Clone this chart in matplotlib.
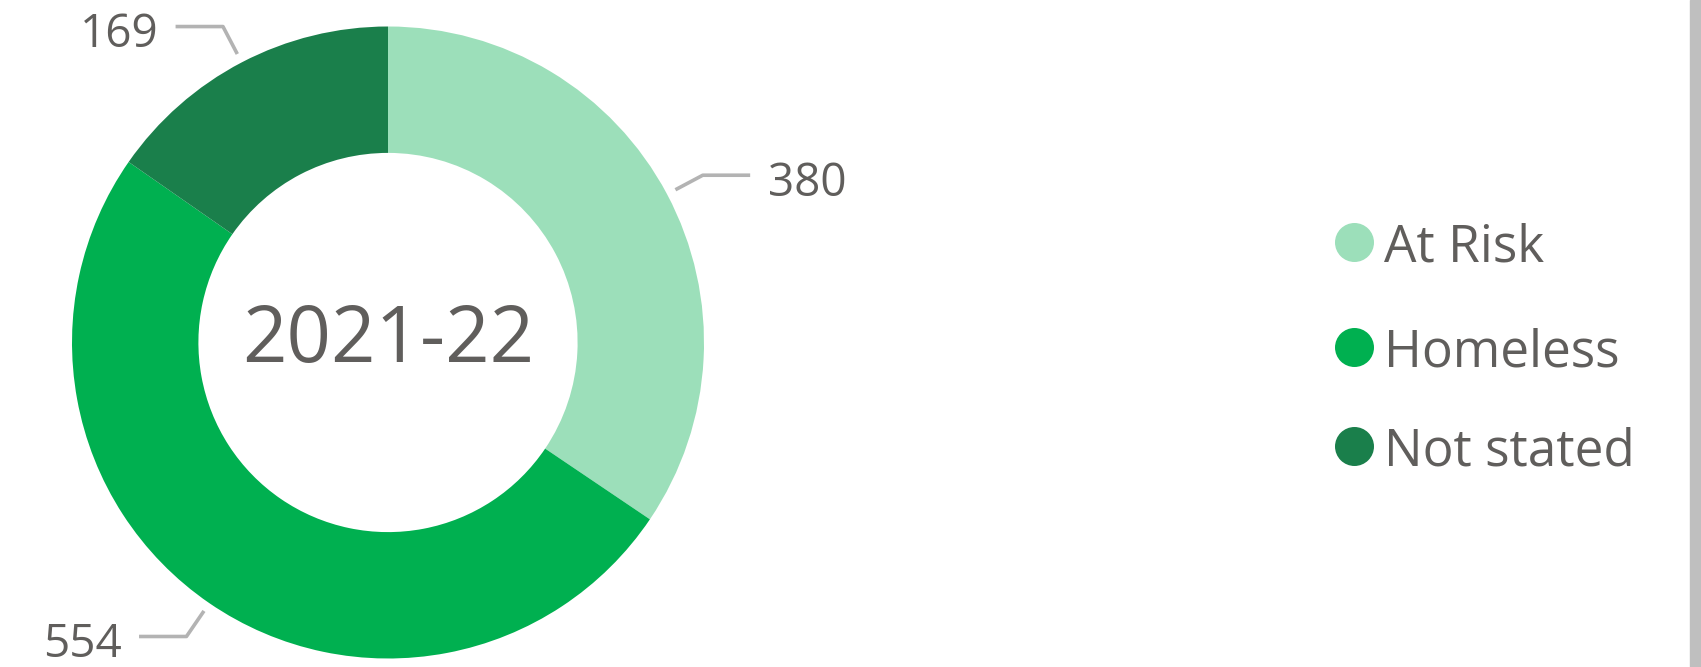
import numpy as np
import matplotlib
matplotlib.use("Agg")
import matplotlib.pyplot as plt
from matplotlib.patches import Rectangle

categories = ["At Risk", "Homeless", "Not stated"]
values = [380, 554, 169]
colors = ["#9CDFBA", "#00B050", "#1A7F4B"]
center_label = "2021-22"

TEXT = "#605E5C"
LINE = "#B3B3B3"
plt.rcParams["font.family"] = ["Open Sans", "DejaVu Sans"]

W, H = 1701, 667
fig = plt.figure(figsize=(W / 100, H / 100), dpi=100)

# donut axes: centre (388, 342.5) px from top, radius 316 px
cx, cy, r = 388, 342.5, 316
ax = fig.add_axes([(cx - r) / W, (H - cy - r) / H, 2 * r / W, 2 * r / H])
wedges, _ = ax.pie(values, colors=colors, startangle=90, counterclock=False,
                   radius=1, wedgeprops=dict(width=0.4, linewidth=0))
ax.set_xlim(-1, 1)
ax.set_ylim(-1, 1)
ax.set_aspect("equal")
ax.axis("off")

ax.text(0, 0.004, center_label, ha="center", va="center", fontsize=56,
        color=TEXT)

# leader lines + data labels
for w, v in zip(wedges, values):
    ang = np.deg2rad((w.theta1 + w.theta2) / 2)
    x0, y0 = 1.03 * np.cos(ang), 1.03 * np.sin(ang)
    x1, y1 = 1.128 * np.cos(ang), 1.128 * np.sin(ang)
    side = 1 if np.cos(ang) > 0 else -1
    x2 = x1 + side * 0.15
    ax.plot([x0, x1, x2], [y0, y1, y1], color=LINE, lw=2.6,
            clip_on=False, solid_capstyle="butt")
    ax.text(x2 + side * 0.055, y1 - 0.027, str(v), fontsize=33, color=TEXT,
            ha="left" if side > 0 else "right", va="center", clip_on=False)

# legend drawn in pixel space
lax = fig.add_axes([0, 0, 1, 1])
lax.set_xlim(0, W)
lax.set_ylim(H, 0)
lax.axis("off")
leg_y = [242, 347, 446]
for name, col, y in zip(categories, colors, leg_y):
    lax.scatter([1354], [y], s=39 ** 2 * 0.5184, color=col, linewidths=0)
    lax.text(1384, y + 6, name, fontsize=37, color=TEXT, ha="left",
             va="center")

# scrollbar strip at the right edge
fig.patches.append(Rectangle((1690 / W, 0), 11 / W, 1, transform=fig.transFigure,
                             color="#BFBFBF", zorder=0))

fig.savefig("out.png", dpi=100)
